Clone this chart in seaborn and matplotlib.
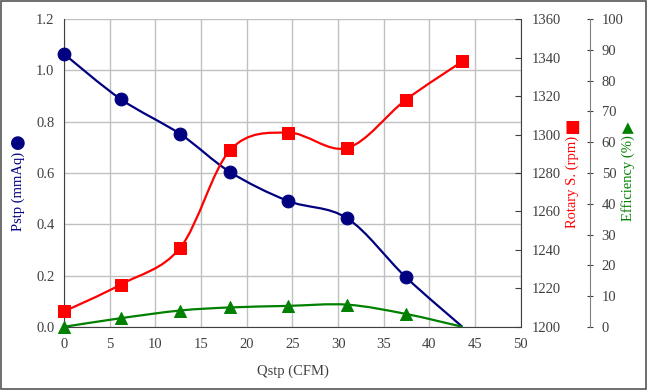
import pandas as pd
import seaborn as sns
import matplotlib.pyplot as plt
from matplotlib.path import Path
from matplotlib.patches import PathPatch, Rectangle

# Fan curve data
qstp = [0.0, 6.2, 12.7, 18.2, 24.5, 31.0, 37.4, 43.6]          # CFM
pstp = [1.064, 0.888, 0.752, 0.603, 0.491, 0.423, 0.194, 0.0]   # mmAq
rpm = [1208, 1222, 1241, 1292, 1301, 1293, 1318, 1338]          # rpm
eff = [0.0, 2.8, 5.3, 6.3, 6.8, 7.2, 4.2, 0.0]                  # %

df = pd.DataFrame({"qstp": qstp, "pstp": pstp, "rpm": rpm, "eff": eff})

NAVY, RED, GREEN = "#000080", "#FF0000", "#008000"
GRID = "#c0c0c0"
AXC = "#404040"
W, H = 647, 390


def smooth_line(ax, x, y, color):
    # Excel-style smoothed line: cubic Bezier segments through the points
    verts = [(x[0], y[0])]
    codes = [Path.MOVETO]
    n = len(x)
    for i in range(n - 1):
        x0, y0 = x[max(i - 1, 0)], y[max(i - 1, 0)]
        x3, y3 = x[min(i + 2, n - 1)], y[min(i + 2, n - 1)]
        c1 = (x[i] + (x[i + 1] - x0) / 6, y[i] + (y[i + 1] - y0) / 6)
        c2 = (x[i + 1] - (x3 - x[i]) / 6, y[i + 1] - (y3 - y[i]) / 6)
        verts += [c1, c2, (x[i + 1], y[i + 1])]
        codes += [Path.CURVE4] * 3
    ax.add_patch(PathPatch(Path(verts, codes), fill=False, edgecolor=color,
                           lw=1.6, zorder=3))


sns.set_style("white")
plt.rcParams["font.family"] = ["Liberation Serif", "DejaVu Sans"]
plt.rcParams["font.size"] = 10.5

fig = plt.figure(figsize=(W / 100, H / 100), dpi=100)
fig.patches.append(Rectangle((0.002, 0.003), 0.996, 0.994, transform=fig.transFigure,
                             fill=False, edgecolor="#555555", lw=1.2))
ax = fig.add_axes([0.099, 0.162, 0.706, 0.789])
ax2 = ax.twinx()
ax3 = ax.twinx()

# Efficiency (third axis)
smooth_line(ax3, qstp, eff, GREEN)
sns.scatterplot(data=df.iloc[:-1], x="qstp", y="eff", ax=ax3, marker="^", s=75,
                color=GREEN, edgecolor=GREEN, zorder=4, clip_on=False)
# Rotary speed
smooth_line(ax2, qstp, rpm, RED)
sns.scatterplot(data=df, x="qstp", y="rpm", ax=ax2, marker="s", s=80,
                color=RED, edgecolor=RED, zorder=4, clip_on=False)
# Static pressure
smooth_line(ax, qstp, pstp, NAVY)
sns.scatterplot(data=df.iloc[:-1], x="qstp", y="pstp", ax=ax, marker="o", s=85,
                color=NAVY, edgecolor=NAVY, zorder=4, clip_on=False)

ax.set_xlim(0, 50)
ax.set_ylim(0, 1.2)
ax.set_xticks(range(0, 51, 5))
ax.set_yticks([i / 5 for i in range(7)])
ax.set_yticklabels([f"{i / 5:.1f}" for i in range(7)])
ax.grid(True, color=GRID, lw=1)
ax.set_axisbelow(True)
ax.set_xlabel("Qstp (CFM)", color=AXC, labelpad=10)
ax.tick_params(axis="both", colors=AXC, length=0, pad=7)
ax.tick_params(axis="x", pad=8)

ax2.set_ylim(1200, 1360)
ax2.set_yticks(range(1200, 1361, 20))
ax2.tick_params(axis="y", colors=AXC, direction="in", length=4, pad=8)

ax3.set_ylim(0, 100)
ax3.set_yticks(range(0, 101, 10))
ax3.spines["right"].set_position(("axes", 1.151))
ax3.tick_params(axis="y", colors=AXC, direction="inout", length=5, pad=6)

for a in (ax, ax2, ax3):
    for s in a.spines.values():
        s.set_visible(False)
    a.set_ylabel("")
ax2.set_xlabel("")
ax3.set_xlabel("")
ax.spines["left"].set_visible(True)
ax.spines["bottom"].set_visible(True)
ax2.spines["right"].set_visible(True)
ax3.spines["right"].set_visible(True)
ax.spines["left"].set_color(AXC)
ax.spines["bottom"].set_color(AXC)
ax2.spines["right"].set_color(AXC)
ax3.spines["right"].set_color("#808080")

# Axis titles with their series symbol (upright) above them
titles = [("Pstp (mmAq)", "●", NAVY, 18, 191, 143, 13),
          ("Rotary S. (rpm)", "■", RED, 572, 182, 127, 12),
          ("Efficiency (%)", "▲", GREEN, 628, 178, 128, 11)]
for text, sym, col, px, py, sy, fs in titles:
    fig.text(px / W, 1 - py / H, text, color=col, rotation=90,
             ha="center", va="center")
    fig.text(px / W, 1 - sy / H, sym, color=col, fontsize=fs,
             family="DejaVu Sans", ha="center", va="center")

fig.savefig("out.png", dpi=100)
